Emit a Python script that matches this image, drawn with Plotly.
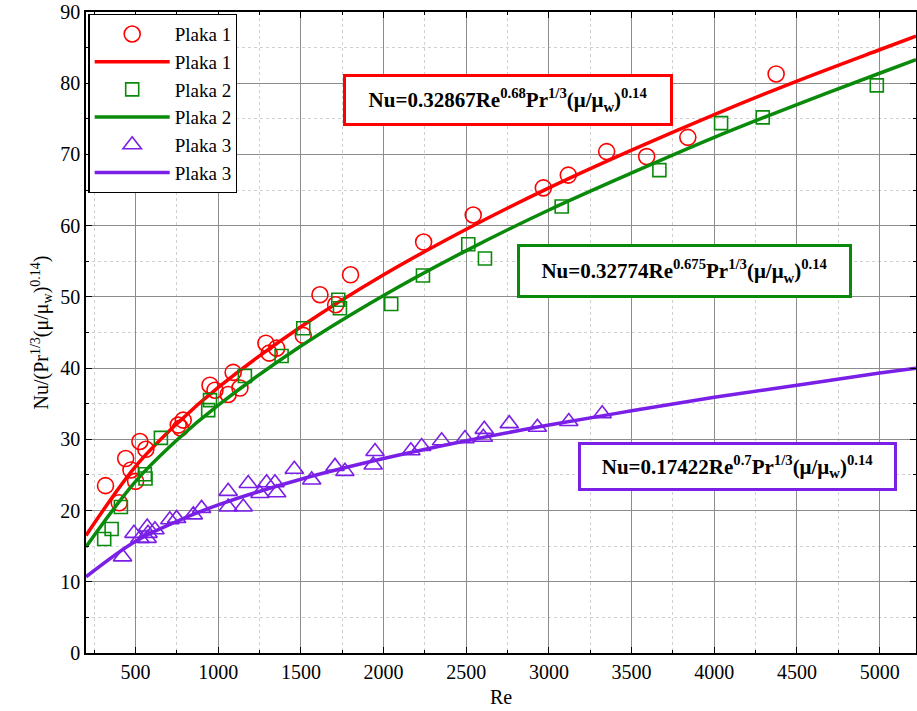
import plotly.graph_objects as go

# ---- data ----
re1 = [318, 401, 440, 472, 500, 526, 562, 758, 772, 788, 950, 980, 1060, 1090, 1131,
       1288, 1308, 1353, 1514, 1615, 1710, 1800, 2242, 2542, 2966, 3117, 3349, 3591, 3840, 4374]
nu1 = [23.5, 21.1, 27.3, 25.7, 24.1, 29.7, 28.6, 32.0, 31.6, 32.7, 37.6, 36.9, 36.3, 39.4, 37.2,
       43.5, 42.1, 42.8, 44.6, 50.3, 48.9, 53.1, 57.7, 61.5, 65.3, 67.1, 70.4, 69.7, 72.4, 81.3]

re2 = [310, 355, 411, 556, 560, 653, 939, 950, 1161, 1383, 1514, 1726, 1736, 2046, 2238,
       2512, 2613, 3077, 3668, 4041, 4293, 4983]
nu2 = [16.0, 17.4, 20.5, 25.1, 24.5, 30.2, 34.1, 35.5, 38.9, 41.7, 45.6, 49.6, 48.4, 49.0, 53.0,
       57.4, 55.4, 62.7, 67.8, 74.4, 75.2, 79.7]

re3 = [421, 490, 526, 570, 570, 575, 617, 707, 748, 849, 899, 1060, 1060, 1151, 1181, 1252,
       1292, 1343, 1353, 1460, 1565, 1706, 1766, 1937, 1948, 2165, 2230, 2351, 2492, 2603,
       2609, 2760, 2930, 3120, 3322]
nu3 = [13.5, 16.8, 16.1, 17.7, 16.1, 16.8, 17.3, 18.7, 18.9, 19.4, 20.3, 22.7, 20.5, 20.5, 23.8,
       22.4, 23.9, 23.9, 22.5, 25.8, 24.3, 26.2, 25.5, 26.4, 28.3, 28.4, 29.0, 29.8, 30.1, 30.3,
       31.4, 32.2, 31.7, 32.5, 33.6]

# fitted curves
re_fit = [200, 500, 750, 1000, 1500, 2000, 2500, 3000, 3500, 4000, 4500, 5000, 5220]
fit1 = [16.5, 26.2, 32.2, 37.3, 45.8, 53.1, 59.5, 65.3, 70.6, 75.6, 80.3, 84.7, 86.6]
fit2 = [14.9, 24.1, 29.9, 34.8, 43.1, 50.2, 56.5, 62.2, 67.4, 72.4, 77.0, 81.4, 83.3]
fit3 = [10.7, 15.7, 18.5, 20.8, 24.4, 27.3, 29.8, 32.0, 34.0, 35.9, 37.6, 39.3, 40.0]

names = ["Plaka 1", "Plaka 2", "Plaka 3"]
colors = ["#ff0000", "#0a8a0a", "#7a1fe6"]
symbols = ["circle-open", "square-open", "triangle-up-open"]
msizes = [16, 13, 16]

eq_texts = [
    "<b>Nu=0.32867Re<sup>0.68</sup>Pr<sup>1/3</sup>(μ/μ<sub>w</sub>)<sup>0.14</sup></b>",
    "<b>Nu=0.32774Re<sup>0.675</sup>Pr<sup>1/3</sup>(μ/μ<sub>w</sub>)<sup>0.14</sup></b>",
    "<b>Nu=0.17422Re<sup>0.7</sup>Pr<sup>1/3</sup>(μ/μ<sub>w</sub>)<sup>0.14</sup></b>",
]

FONT = "Liberation Serif"

fig = go.Figure()
data = [(re1, nu1, fit1), (re2, nu2, fit2), (re3, nu3, fit3)]
for i, (rx, ny, fy) in enumerate(data):
    fig.add_trace(go.Scatter(
        x=rx, y=ny, mode="markers", name=names[i],
        marker=dict(symbol=symbols[i], size=msizes[i], color=colors[i],
                    line=dict(width=1.6, color=colors[i]))))
    fig.add_trace(go.Scatter(
        x=re_fit, y=fy, mode="lines", name=names[i],
        line=dict(color=colors[i], width=3.5, shape="spline", smoothing=1.0)))

W, H = 917, 711
PL, PR, PT, PB = 86, 916, 12, 653
ann_px = [(508, 100), (684, 271), (737, 466)]
ann_w = [318, 323, 307]
ann_h = [40, 42, 37]
for i, t in enumerate(eq_texts):
    cx, cy = ann_px[i]
    fig.add_annotation(
        x=(cx - PL) / (PR - PL), y=(PB - cy) / (PB - PT), xref="paper", yref="paper",
        xanchor="center", yanchor="middle",
        text=t, showarrow=False, font=dict(family=FONT, size=21, color="black"),
        bordercolor=colors[i], borderwidth=3, borderpad=3, bgcolor="white",
        width=ann_w[i], height=ann_h[i], align="center")

axis_common = dict(
    showline=True, linecolor="black", linewidth=1.5, mirror="ticks",
    ticks="inside", ticklen=6, tickcolor="black",
    showgrid=True, gridcolor="#8c8c8c", gridwidth=1,
    zeroline=False, automargin=False, ticklabeloverflow="allow",
    tickfont=dict(family=FONT, size=20, color="black"),
)

fig.update_xaxes(
    range=[200, 5220], tick0=0, dtick=500,
    title=dict(text="Re", font=dict(family=FONT, size=20, color="black"), standoff=8),
    minor=dict(dtick=250, tick0=0, showgrid=True, gridcolor="#d0d0d0", griddash="dot",
               ticks="inside", ticklen=3, tickcolor="black"),
    **axis_common)
fig.update_yaxes(
    range=[0, 90], tick0=0, dtick=10,
    title=dict(text="Nu/(Pr<sup>1/3</sup>(μ/μ<sub>w</sub>)<sup>0.14</sup>)",
               font=dict(family=FONT, size=20, color="black"), standoff=6),
    minor=dict(dtick=5, tick0=0, showgrid=True, gridcolor="#d0d0d0", griddash="dot",
               ticks="inside", ticklen=3, tickcolor="black"),
    **axis_common)

fig.update_layout(
    width=W, height=H,
    margin=dict(l=PL, r=W - PR, t=PT, b=H - PB, autoexpand=False),
    paper_bgcolor="white", plot_bgcolor="white",
    font=dict(family=FONT, color="black"),
    legend=dict(x=0.003, y=0.997, xanchor="left", yanchor="top",
                bgcolor="white", bordercolor="black", borderwidth=1.2,
                font=dict(family=FONT, size=19, color="black"),
                itemwidth=75, tracegroupgap=0),
    showlegend=True,
)

fig.write_html("out.html", config={"displayModeBar": False},
               post_script="document.body.style.margin='0';document.body.style.overflow='hidden';")
